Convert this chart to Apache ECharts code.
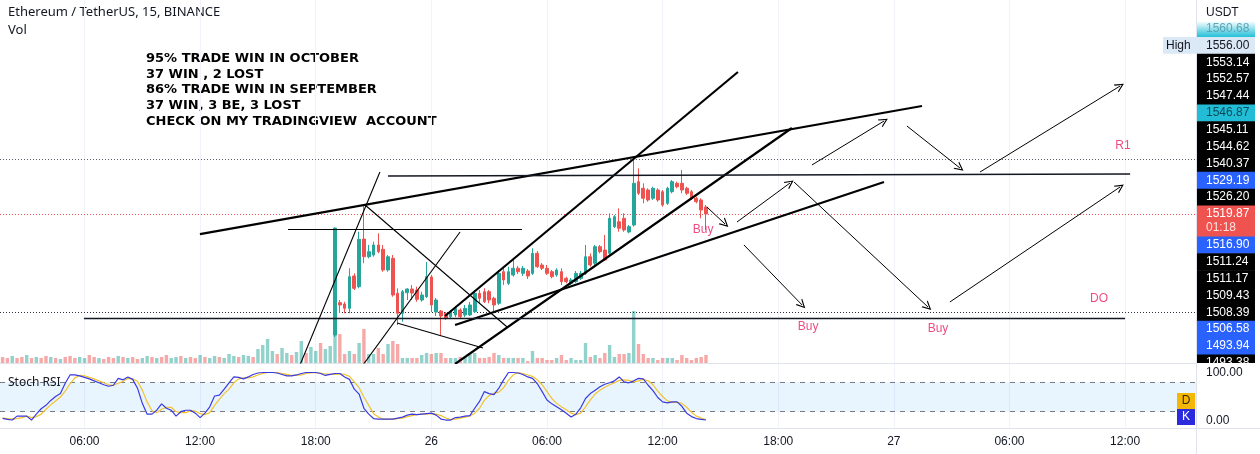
<!DOCTYPE html>
<html><head><meta charset="utf-8">
<script src="https://cdn.jsdelivr.net/npm/echarts@6/dist/echarts.min.js"></script>
<style>html,body{margin:0;padding:0;background:#fff;}#c{width:1260px;height:454px;}</style>
</head><body><div id="c"></div>
<script>
// ---------- DATA ----------
const tickHours = [6, 12, 18, 24, 30, 36, 42, 48, 54, 60];
const tickLabels = ['06:00', '12:00', '18:00', '26', '06:00', '12:00', '18:00', '27', '06:00', '12:00'];

// 15-minute candles from 25th 19:00, [open, close, low, high]
const candleStartHour = 19;
const candles = [
[1505.80,1518.24,1505.57,1518.30],[1509.56,1509.29,1508.36,1509.87],[1509.40,1508.90,1508.32,1509.67],[1508.90,1512.58,1508.32,1513.56],
[1512.66,1511.23,1511.03,1512.97],[1511.42,1516.93,1511.23,1517.81],[1516.96,1514.90,1514.14,1520.92],[1514.90,1515.49,1514.72,1516.27],
[1515.10,1516.27,1514.90,1516.65],[1516.27,1515.49,1515.30,1517.63],[1515.77,1513.36,1513.16,1516.27],[1513.36,1514.90,1513.16,1515.10],
[1514.72,1510.45,1510.25,1515.10],[1510.65,1508.32,1506.96,1511.23],[1508.32,1510.84,1507.35,1511.03],[1510.72,1511.15,1509.87,1511.23],
[1511.15,1510.68,1509.87,1511.61],[1511.03,1509.95,1509.67,1511.42],[1509.87,1510.45,1509.67,1510.84],[1510.25,1512.58,1510.10,1514.29],
[1512.55,1509.29,1508.47,1512.78],[1508.47,1509.87,1508.01,1510.10],[1508.59,1508.01,1505.80,1508.71],[1508.32,1507.74,1507.54,1508.47],
[1507.93,1508.51,1507.78,1508.71],[1508.13,1508.90,1507.89,1509.17],[1508.71,1507.93,1507.78,1508.90],[1508.13,1508.90,1507.89,1509.29],
[1508.13,1509.29,1508.01,1509.64],[1508.51,1510.65,1508.36,1511.03],[1510.65,1510.07,1509.49,1511.03],[1510.84,1509.67,1509.52,1511.23],
[1510.84,1509.87,1509.49,1511.03],[1510.07,1509.29,1508.51,1510.25],[1509.49,1512.97,1509.29,1513.36],[1513.16,1512.20,1511.61,1513.56],
[1511.81,1513.16,1511.61,1513.74],[1512.78,1513.56,1512.58,1514.52],[1513.56,1513.16,1512.89,1513.82],[1512.97,1513.56,1512.66,1513.82],
[1513.24,1512.66,1512.31,1513.47],[1512.97,1515.30,1512.78,1515.88],[1515.30,1513.74,1513.59,1515.57],[1513.94,1513.56,1513.36,1514.17],
[1513.56,1512.97,1512.78,1513.94],[1513.16,1512.58,1512.39,1513.36],[1512.78,1513.36,1512.58,1513.56],[1513.16,1512.00,1511.61,1513.56],
[1512.39,1512.00,1511.81,1512.58],[1511.81,1512.20,1511.61,1512.43],[1512.00,1512.97,1511.85,1513.24],[1512.39,1512.97,1512.20,1513.24],
[1512.97,1514.90,1512.78,1516.27],[1514.90,1513.94,1513.74,1515.30],[1514.14,1516.07,1513.94,1516.27],[1516.07,1515.49,1515.30,1516.27],
[1515.68,1514.52,1514.40,1517.43],[1515.30,1519.37,1515.10,1519.95],[1518.39,1519.56,1518.24,1519.75],[1518.97,1518.21,1517.81,1520.53],
[1519.37,1518.01,1517.81,1519.95],[1517.78,1518.39,1517.63,1518.59],[1518.59,1523.44,1518.39,1526.53],[1523.63,1522.28,1522.08,1525.18],
[1522.86,1521.70,1521.11,1523.44],[1522.66,1521.50,1521.30,1522.86],[1521.70,1522.86,1521.50,1523.04],[1522.66,1521.50,1521.30,1522.86],
[1522.46,1520.92,1520.72,1522.66],[1521.11,1522.86,1520.92,1523.04],[1522.46,1523.63,1522.28,1523.82],[1523.44,1523.04,1522.86,1523.63],
[1523.44,1522.66,1522.28,1524.99],[1522.86,1522.28,1522.08,1523.04],[1522.46,1521.70,1521.50,1522.66],[1521.70,1521.30,1521.11,1521.88],
[1521.50,1520.34,1519.37,1521.70],[1520.68,1519.87,1518.01,1520.92]
];

// volume and stoch RSI: 15-minute bars from 25th 01:45
const barStartHour = 1.75;
const volumeEarly = [300,250,350,250,300,400,250,300,250,350,300,250,200,300,350,250,300,250,400,300,250,200,300,250,350,300,250,300,200,250,350,300,250,300,400,250,300,350,250,300,250,400,300,250,350,300,250,450,350,300,400,350,300,700,900,1200,600,450,750,500,400,550,1100,500,800,600,1000,700,850];
const volumeEarlyUp = [0,0,1,0,0,1,0,1,0,0,1,0,1,0,0,0,1,1,0,0,1,0,0,0,1,0,1,0,0,1,1,0,1,0,0,1,1,0,1,0,0,1,0,1,1,0,1,1,1,0,1,1,0,1,1,1,1,0,1,1,0,1,1,0,1,1,0,1,1];
const volumeCandles = [2200,1450,450,600,450,1000,1700,450,450,750,450,950,1100,950,250,250,250,250,400,500,450,500,500,250,250,250,300,300,450,500,250,250,300,500,400,250,250,250,250,250,100,600,250,250,150,150,250,400,150,250,150,150,1000,300,400,250,500,900,300,450,450,500,2600,950,450,250,250,150,250,250,250,150,400,250,150,250,300,400];
const stochK = [6.5,4.5,3,11,11,11,3,15,26,33,43,51,57,78,95,95,93,90,87,83,79,75,72,74,88,85,91,86,68,37,15,15,23,36,27,23,11,20,23,23,17,8,17,30,52,54,66,79,91,90,87,91,96,99,100,100,100,99,96,93,93,95,98,100,100,100,98,94,96,98,98,91,86,66,56,27,15,6,5,5,5,5,7,9,13,15,14,15,16,17,13,5,3,3,8,9,11,12,27,41,61,57,55,68,85,100,100,99,96,91,88,77,61,44,36,30,24,17,9,15,28,47,57,64,71,76,79,83,91,81,79,83,88,87,74,63,49,40,38,40,40,31,17,10,6,4.5,3];
const stochD = [7,6,5,6,8,11,8,10,15,25,34,42,50,62,77,89,94,93,90,87,83,79,75,74,78,82,88,87,82,64,40,22,18,25,29,29,20,18,18,22,21,16,14,18,33,45,57,66,79,87,89,89,91,95,98,100,100,100,98,96,94,94,95,98,99,100,99,97,96,96,97,96,92,81,69,50,33,16,9,5,5,5,6,7,10,12,14,15,15,16,15,12,7,4,5,7,9,11,17,27,43,53,58,60,69,84,95,100,98,95,92,85,75,61,47,37,30,24,17,14,17,30,44,56,64,70,75,79,84,85,84,81,83,86,83,75,62,51,42,39,39,37,29,19,11,7,4];

// drawings in (hour, price)
const thickLines = [
  [11.99,1517.54,49.46,1532.43],
  [24.71,1508.01,39.91,1536.38],
  [25.23,1502.43,42.71,1529.87],
  [25.23,1506.96,47.49,1523.59]
];
const mediumLines = [
  [21.75,1524.29,60.26,1524.52],
  [5.97,1507.78,60.00,1507.78]
];
const thinLines = [
  [16.56,1518.13,28.70,1518.13],
  [17.18,1502.31,21.33,1524.75],
  [20.45,1502.31,25.49,1517.78],
  [20.56,1520.92,27.93,1506.73],
  [22.22,1507.20,26.68,1504.29]
];
const arrows = [
  [43.75,1525.57,47.49,1530.68],
  [48.68,1530.10,51.43,1525.22],
  [52.47,1524.75,59.74,1534.75],
  [39.86,1518.94,42.61,1523.47],
  [40.22,1516.27,43.24,1509.29],
  [42.82,1523.59,49.77,1509.06],
  [50.91,1509.64,59.74,1523.01],
  [38.30,1520.68,39.24,1518.71]
];
const noteLabels = [
  [38.10,1518.01,'Buy'],[43.55,1506.73,'Buy'],[50.29,1506.50,'Buy'],[59.89,1527.78,'R1'],[58.65,1509.99,'DO']
];
const dottedLevels = [[1526.20,'#5d606b'],[1519.87,'#ef5350'],[1508.39,'#2a2e39']];

const headerTitle = 'Ethereum / TetherUS, 15, BINANCE';
const noteText = ['95% TRADE WIN IN OCTOBER','37 WIN , 2 LOST','86% TRADE WIN IN SEPTEMBER','37 WIN, 3 BE, 3 LOST','CHECK ON MY TRADINGVIEW  ACCOUNT'];
// right price-scale tags (stacked), kind: b=black, u=blue, c=cyan, h=high, r=red(current)
const priceTags = [
  ['1556.00','h'],['1553.14','b'],['1552.57','b'],['1547.44','b'],['1546.87','c'],['1545.11','b'],['1544.62','b'],['1540.37','b'],
  ['1529.19','u'],['1526.20','b'],['1519.87','r'],['1516.90','u'],['1511.24','b'],['1511.17','b'],['1509.43','b'],['1508.39','b'],
  ['1506.58','u'],['1493.94','u'],['1493.38','b']
];
const topTag = '1560.68';
const countdown = '01:18';
const stochTicks = ['100.00','0.00'];

// ---------- LAYOUT ----------
const XMIN = 1.615, XMAX = 63.68;
const PMIN = 1502.545, PMAX = 1544.754;
const GREEN = '#26a69a', RED = '#ef5350';

const candleData = candles.map((c, i) => [candleStartHour + i * 0.25, c[0], c[1], c[2], c[3]]);
const volAll = volumeEarly.concat(volumeCandles);
const volData = volAll.map((v, j) => {
  let up;
  if (j < volumeEarly.length) up = volumeEarlyUp[j] === 1;
  else { const c = candles[j - volumeEarly.length]; up = c[1] >= c[0]; }
  return { value: [barStartHour + j * 0.25, v], itemStyle: { color: up ? 'rgba(38,166,154,0.5)' : 'rgba(239,83,80,0.5)' } };
});
const kData = stochK.map((v, j) => [barStartHour + j * 0.25, v]);
const dData = stochD.map((v, j) => [barStartHour + j * 0.25, v]);
const toLines = arr => arr.map(l => ({ coords: [[l[0], l[1]], [l[2], l[3]]] }));

const xBase = (gi, showLabel) => ({
  type: 'value', gridIndex: gi, min: XMIN, max: XMAX,
  axisLine: { show: false }, axisTick: { show: false, customValues: tickHours },
  axisLabel: showLabel ? {
    show: true, customValues: tickHours, color: '#131722', fontSize: 12, margin: 8,
    fontFamily: 'Liberation Sans',
    formatter: v => { const k = tickHours.indexOf(Math.round(v)); return k >= 0 ? tickLabels[k] : ''; }
  } : { show: false },
  splitLine: { show: false }
});

const vGridLines = (gi) => ({
  type: 'lines', coordinateSystem: 'cartesian2d', xAxisIndex: gi, yAxisIndex: gi, silent: true, z: 0,
  lineStyle: { color: '#f0f3fa', width: 1, opacity: 1 },
  data: tickHours.map(h => ({ coords: [[h, gi === 0 ? PMIN : (gi === 1 ? 0 : -20)], [h, gi === 0 ? PMAX : (gi === 1 ? 4000 : 130)]] }))
});

const chevron = 'path://M0,10 L5,0 L10,10 L8.6,10 L5,2.8 L1.4,10 Z';

const graphics = [];
// header
graphics.push({ type: 'text', left: 8, top: 6, style: { text: headerTitle, fill: '#131722', font: '13px "Noto Sans"' } });
graphics.push({ type: 'text', left: 8, top: 24, style: { text: 'Vol', fill: '#131722', font: '13px "Noto Sans"' } });
noteText.forEach((t, k) => graphics.push({ type: 'text', x: 146, y: 58.5 + k * 15.8, style: { text: t, fill: '#000', font: 'bold 13px "DejaVu Sans"', textVerticalAlign: 'middle' } }));
// separators
graphics.push({ type: 'rect', shape: { x: 0, y: 363, width: 1196, height: 1 }, style: { fill: '#e0e3eb' }, z: 1 });
graphics.push({ type: 'rect', shape: { x: 0, y: 428, width: 1260, height: 1 }, style: { fill: '#e0e3eb' }, z: 1 });
graphics.push({ type: 'rect', shape: { x: 1196, y: 0, width: 1, height: 454 }, style: { fill: '#e0e3eb' }, z: 1 });
// USDT
graphics.push({ type: 'text', left: 1206, top: 7, style: { text: 'USDT', fill: '#131722', font: '12px "Liberation Sans"' }, z: 20 });
// top cyan tag
graphics.push({ type: 'rect', shape: { x: 1197, y: 21, width: 58, height: 16 }, style: { fill: new echarts.graphic.LinearGradient(0, 0, 0, 1, [{ offset: 0, color: '#ffffff' }, { offset: 1, color: '#22c0d8' }]) }, z: 20 });
graphics.push({ type: 'text', x: 1206, y: 29, style: { text: topTag, fill: '#5aa5b5', font: '12px "Liberation Sans"', textVerticalAlign: 'middle' }, z: 21 });
// stacked tags
const tagStyle = {
  b: ['#000000', '#ffffff'], u: ['#2962ff', '#ffffff'], c: ['#22bcd6', '#0b4b58'], h: ['#dbe8f6', '#131722'], r: ['#ef5350', '#ffffff']
};
let ty = 37;
priceTags.forEach(([txt, kind]) => {
  const h = kind === 'r' ? 31 : 16.85;
  const [bg, fg] = tagStyle[kind];
  graphics.push({ type: 'rect', shape: { x: 1197, y: ty, width: 58, height: h + 0.5 }, style: { fill: bg }, z: 20 });
  graphics.push({ type: 'text', x: 1206, y: ty + 8.4, style: { text: txt, fill: fg, font: '12px "Liberation Sans"', textVerticalAlign: 'middle' }, z: 21 });
  if (kind === 'r') graphics.push({ type: 'text', x: 1206, y: ty + 22.5, style: { text: countdown, fill: '#fde2e1', font: '12px "Liberation Sans"', textVerticalAlign: 'middle' }, z: 21 });
  if (kind === 'h') {
    graphics.push({ type: 'rect', shape: { x: 1163, y: ty, width: 34, height: h }, style: { fill: bg }, z: 20 });
    graphics.push({ type: 'text', x: 1166, y: ty + 8.4, style: { text: 'High', fill: '#131722', font: '12px "Liberation Sans"', textVerticalAlign: 'middle' }, z: 21 });
  }
  ty += h;
});
// stoch price scale area (covers overflow of stacked tags)
graphics.push({ type: 'rect', shape: { x: 1197, y: 363, width: 63, height: 91 }, style: { fill: '#ffffff' }, z: 30 });
graphics.push({ type: 'rect', shape: { x: 1196, y: 363, width: 1, height: 91 }, style: { fill: '#e0e3eb' }, z: 31 });
graphics.push({ type: 'rect', shape: { x: 0, y: 428, width: 1260, height: 1 }, style: { fill: '#e0e3eb' }, z: 31 });
graphics.push({ type: 'text', x: 1206, y: 372.5, style: { text: stochTicks[0], fill: '#131722', font: '12px "Liberation Sans"', textVerticalAlign: 'middle' }, z: 32 });
graphics.push({ type: 'text', x: 1206, y: 421, style: { text: stochTicks[1], fill: '#131722', font: '12px "Liberation Sans"', textVerticalAlign: 'middle' }, z: 32 });
// D / K tags
graphics.push({ type: 'rect', shape: { x: 1177, y: 393, width: 18, height: 16 }, style: { fill: '#f5b705' }, z: 20 });
graphics.push({ type: 'text', x: 1186, y: 401, style: { text: 'D', fill: '#3a2a00', font: '12px "Liberation Sans"', textAlign: 'center', textVerticalAlign: 'middle' }, z: 21 });
graphics.push({ type: 'rect', shape: { x: 1177, y: 409, width: 18, height: 16 }, style: { fill: '#2b2bdd' }, z: 20 });
graphics.push({ type: 'text', x: 1186, y: 417, style: { text: 'K', fill: '#ffffff', font: '12px "Liberation Sans"', textAlign: 'center', textVerticalAlign: 'middle' }, z: 21 });
graphics.push({ type: 'text', x: 8, y: 383, style: { text: 'Stoch RSI', fill: '#131722', font: '12px "Noto Sans"', textVerticalAlign: 'middle' }, z: 21 });

const option = {
  backgroundColor: '#ffffff',
  animation: false,
  grid: [
    { left: 0, right: 64, top: 0, height: 363 },
    { left: 0, right: 64, top: 290, height: 73 },
    { left: 0, right: 64, top: 364, height: 64 }
  ],
  xAxis: [xBase(0, false), xBase(1, false), xBase(2, true)],
  yAxis: [
    { type: 'value', gridIndex: 0, min: PMIN, max: PMAX, show: false, splitLine: { show: false } },
    { type: 'value', gridIndex: 1, min: 0, max: 3650, show: false, splitLine: { show: false } },
    { type: 'value', gridIndex: 2, min: -13.27, max: 117.35, show: false, splitLine: { show: false } }
  ],
  series: [
    vGridLines(0), vGridLines(2),
    {
      type: 'bar', xAxisIndex: 1, yAxisIndex: 1, data: volData, barWidth: 3.4, z: 1, silent: true
    },
    {
      type: 'candlestick', xAxisIndex: 0, yAxisIndex: 0, data: candleData, barWidth: 3.2, z: 5,
      itemStyle: { color: GREEN, color0: RED, borderColor: GREEN, borderColor0: RED, borderWidth: 1 },
      markLine: {
        silent: true, symbol: 'none', label: { show: false },
        data: dottedLevels.map(([p, col]) => ({ yAxis: p, lineStyle: { color: col, type: [1, 2], width: 1 } }))
      }
    },
    {
      type: 'lines', coordinateSystem: 'cartesian2d', xAxisIndex: 0, yAxisIndex: 0, silent: true, z: 8,
      lineStyle: { color: '#000', width: 2.2, opacity: 1 }, data: toLines(thickLines)
    },
    {
      type: 'lines', coordinateSystem: 'cartesian2d', xAxisIndex: 0, yAxisIndex: 0, silent: true, z: 8,
      lineStyle: { color: '#131722', width: 1.4, opacity: 1 }, data: toLines(mediumLines)
    },
    {
      type: 'lines', coordinateSystem: 'cartesian2d', xAxisIndex: 0, yAxisIndex: 0, silent: true, z: 8,
      lineStyle: { color: '#000', width: 1.1, opacity: 1 }, data: toLines(thinLines)
    },
    {
      type: 'lines', coordinateSystem: 'cartesian2d', xAxisIndex: 0, yAxisIndex: 0, silent: true, z: 8,
      symbol: ['none', chevron], symbolSize: 9,
      lineStyle: { color: '#000', width: 1, opacity: 1 }, data: toLines(arrows)
    },
    {
      type: 'scatter', xAxisIndex: 0, yAxisIndex: 0, symbolSize: 2, itemStyle: { color: 'rgba(0,0,0,0)' }, silent: true, z: 9,
      data: noteLabels.map(l => ({ value: [l[0], l[1]], name: l[2] })),
      label: { show: true, position: 'inside', formatter: p => p.name, color: '#e91e63', fontSize: 12, fontFamily: 'Liberation Sans' }
    },
    {
      type: 'line', xAxisIndex: 2, yAxisIndex: 2, data: dData, showSymbol: false, silent: true, z: 5,
      lineStyle: { color: '#f2c230', width: 1.2 },
      markArea: { silent: true, itemStyle: { color: 'rgba(33,150,243,0.1)' }, data: [[{ yAxis: 20 }, { yAxis: 80 }]] },
      markLine: { silent: true, symbol: 'none', label: { show: false }, lineStyle: { color: '#787b86', type: [5, 5], width: 1 }, data: [{ yAxis: 80 }, { yAxis: 20 }] }
    },
    {
      type: 'line', xAxisIndex: 2, yAxisIndex: 2, data: kData, showSymbol: false, silent: true, z: 6,
      lineStyle: { color: '#3a3ae0', width: 1.2 }
    }
  ],
  graphic: graphics
};
const chart = echarts.init(document.getElementById('c'));
chart.setOption(option);
</script></body></html>
